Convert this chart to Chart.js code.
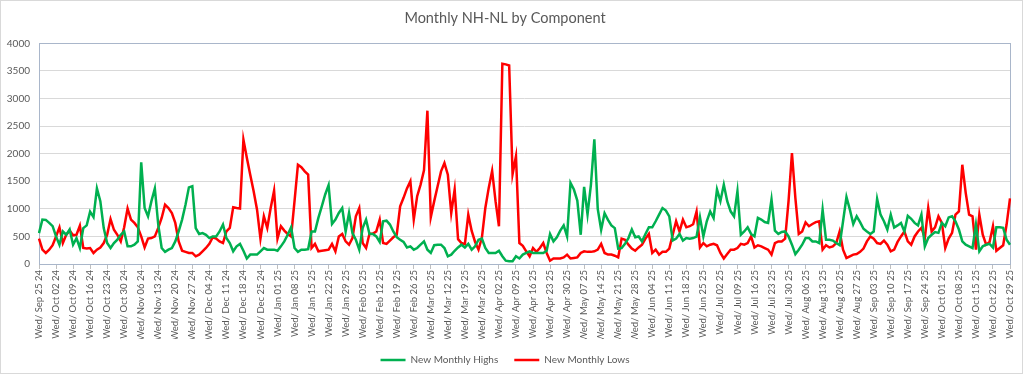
<!DOCTYPE html>
<html>
<head>
<meta charset="utf-8">
<script src="https://cdn.jsdelivr.net/npm/chart.js@4/dist/chart.umd.min.js"></script>
<style>
  html, body { margin: 0; padding: 0; background: #fff; }
  #wrap { width: 1024px; height: 376px; }
</style>
</head>
<body>
<div id="wrap"><canvas id="nhnl" width="1024" height="376"></canvas></div>
<script>
// first and last weekday shown on the axis (one category per weekday)
const startDate = '2024-09-25';
const endDate = '2025-10-29';

const yTicks = [0, 500, 1000, 1500, 2000, 2500, 3000, 3500, 4000];

const newHighs = [
  560, 805, 800, 745, 685, 500, 350, 590, 530, 625,
  350, 470, 290, 650, 700, 950, 850, 1370, 1140, 650,
  380, 290, 380, 440, 530, 590, 320, 320, 350, 410,
  1845, 1015, 865, 1140, 1370, 715, 290, 220, 260, 290,
  410, 590, 805, 1075, 1390, 1410, 650, 545, 560, 530,
  470, 500, 500, 590, 715, 470, 380, 230, 320, 365,
  240, 100, 170, 170, 170, 230, 290, 260, 260, 260,
  240, 320, 410, 530, 665, 290, 220, 260, 260, 270,
  590, 590, 835, 1045, 1260, 1430, 725, 805, 925, 1015,
  590, 925, 560, 440, 260, 650, 805, 545, 545, 500,
  400, 775, 785, 715, 590, 485, 440, 400, 300, 320,
  260, 290, 350, 410, 260, 200, 340, 350, 350, 290,
  140, 170, 240, 300, 350, 300, 365, 260, 320, 440,
  460, 290, 200, 200, 200, 240, 140, 60, 50, 50,
  140, 100, 170, 200, 230, 200, 200, 200, 200, 240,
  545, 410, 485, 605, 700, 500, 1470, 1350, 1150, 530,
  1400, 900, 1440, 2260, 1000, 620, 920, 800, 700, 650,
  280, 290, 365, 470, 625, 485, 500, 410, 545, 665,
  665, 775, 895, 1015, 970, 865, 425, 460, 545, 425,
  470, 460, 470, 495, 850, 500, 775, 955, 835, 1350,
  1140, 1440, 1140, 955, 865, 1320, 530, 590, 665, 545,
  500, 835, 805, 760, 745, 1170, 605, 545, 580, 590,
  500, 350, 180, 260, 350, 470, 470, 410, 410, 380,
  985, 440, 440, 425, 380, 340, 775, 1215, 985, 725,
  865, 760, 640, 590, 545, 590, 1180, 895, 775, 625,
  895, 660, 700, 745, 590, 875, 820, 745, 700, 895,
  320, 470, 530, 580, 565, 745, 685, 845, 865, 775,
  625, 410, 350, 320, 290, 715, 230, 320, 350, 365,
  300, 665, 665, 655, 440, 350
];

const newLows = [
  460, 260, 200, 260, 340, 500, 665, 380, 530, 605,
  520, 530, 695, 290, 280, 290, 200, 260, 300, 380,
  530, 815, 620, 530, 410, 665, 1005, 805, 745, 665,
  500, 300, 460, 470, 500, 655, 835, 1075, 1015, 925,
  745, 410, 240, 220, 200, 200, 140, 170, 230, 290,
  365, 485, 460, 410, 380, 590, 655, 1030, 1015, 1005,
  2255, 1925, 1620, 1320, 985, 460, 865, 655, 1015, 1330,
  460, 685, 605, 545, 500, 1140, 1800, 1755, 1680, 1620,
  290, 365, 230, 240, 250, 260, 365, 230, 500, 545,
  410, 350, 470, 865, 1015, 380, 290, 550, 550, 590,
  805, 380, 365, 425, 485, 530, 1045, 1200, 1370, 1500,
  805, 1230, 1440, 1700, 2780, 850, 1140, 1410, 1680, 1830,
  1620, 925, 1350, 450, 380, 360, 895, 600, 400, 260,
  480, 1015, 1380, 1690, 1140, 685, 3630, 3620, 3600, 1630,
  1955, 380, 330, 230, 140, 290, 220, 290, 380, 200,
  60, 100, 100, 100, 120, 170, 100, 110, 120, 200,
  230, 220, 220, 230, 260, 365, 200, 170, 170, 150,
  120, 460, 440, 350, 280, 240, 300, 350, 460, 545,
  200, 260, 170, 220, 220, 280, 530, 775, 590, 805,
  665, 685, 720, 950, 300, 380, 320, 350, 365, 340,
  200, 100, 180, 260, 260, 290, 365, 350, 380, 500,
  300, 340, 320, 290, 260, 170, 380, 410, 410, 460,
  1140, 2010, 1200, 545, 590, 755, 685, 725, 760, 775,
  260, 340, 300, 320, 380, 590, 260, 110, 140, 170,
  180, 220, 280, 410, 500, 460, 380, 365, 425, 350,
  230, 260, 400, 500, 590, 410, 350, 500, 590, 655,
  470, 1015, 590, 665, 865, 745, 290, 460, 565, 895,
  955, 1800, 1290, 895, 865, 260, 895, 530, 350, 400,
  685, 240, 290, 340, 715, 1190
];

const DAYS = ['Sun', 'Mon', 'Tue', 'Wed', 'Thu', 'Fri', 'Sat'];
const MONTHS = ['Jan', 'Feb', 'Mar', 'Apr', 'May', 'Jun', 'Jul', 'Aug', 'Sep', 'Oct', 'Nov', 'Dec'];

// weekday categories, formatted like the sheet: "Wed/ Sep 25 24"
function weekdayLabels(from, to) {
  const out = [];
  const d = new Date(from + 'T00:00:00Z');
  const end = new Date(to + 'T00:00:00Z');
  while (d <= end) {
    const dow = d.getUTCDay();
    if (dow !== 0 && dow !== 6) {
      const dd = String(d.getUTCDate()).padStart(2, '0');
      const yy = String(d.getUTCFullYear()).slice(2);
      out.push(`${DAYS[dow]}/ ${MONTHS[d.getUTCMonth()]} ${dd} ${yy}`);
    }
    d.setUTCDate(d.getUTCDate() + 1);
  }
  return out;
}
const categories = weekdayLabels(startDate, endDate);

const FONT = "Lato, 'Open Sans', 'Liberation Sans', sans-serif";
const TEXT = '#595959';

// white page, thin outer frame and the plot-area box
const frame = {
  id: 'frame',
  beforeDraw(chart) {
    const { ctx, width, height } = chart;
    ctx.save();
    ctx.fillStyle = '#fff';
    ctx.fillRect(0, 0, width, height);
    ctx.strokeStyle = '#d9d9d9';
    ctx.lineWidth = 1;
    ctx.strokeRect(0.5, 0.5, width - 2, height - 3);
    ctx.restore();
  },
  beforeDatasetsDraw(chart) {
    const { ctx, chartArea: a } = chart;
    ctx.save();
    ctx.strokeStyle = '#a9b6ca';
    ctx.lineWidth = 1;
    ctx.strokeRect(Math.round(a.left) + 0.5, Math.round(a.top) + 0.5,
      Math.round(a.right - a.left), Math.round(a.bottom - a.top));
    ctx.restore();
  }
};

new Chart(document.getElementById('nhnl'), {
  type: 'line',
  data: {
    labels: categories,
    datasets: [
      {
        label: 'New Monthly Highs',
        data: newHighs,
        borderColor: '#00b050',
        backgroundColor: '#00b050',
        borderWidth: 2.5,
        pointRadius: 0,
        tension: 0
      },
      {
        label: 'New Monthly Lows',
        data: newLows,
        borderColor: '#ff0000',
        backgroundColor: '#ff0000',
        borderWidth: 2.5,
        pointRadius: 0,
        tension: 0
      }
    ]
  },
  options: {
    responsive: false,
    animation: false,
    layout: { padding: { left: 0, right: 14, top: 2, bottom: 1 } },
    scales: {
      x: {
        offset: false,
        border: { display: false },
        grid: {
          drawOnChartArea: false,
          tickLength: 5,
          color: (c) => (c.index % 5 === 0 ? '#bfbfbf' : 'rgba(0,0,0,0)')
        },
        ticks: {
          autoSkip: false,
          maxRotation: 90,
          minRotation: 90,
          padding: 1,
          color: TEXT,
          font: { family: FONT, size: 9.5 },
          callback: (v, i) => (i % 5 === 0 ? categories[i] : '')
        },
        afterFit: (s) => { s.height = 75; }
      },
      y: {
        min: yTicks[0],
        max: yTicks[yTicks.length - 1],
        border: { display: false },
        grid: { color: '#d9d9d9', drawTicks: false },
        ticks: {
          stepSize: yTicks[1] - yTicks[0],
          padding: 9,
          color: TEXT,
          font: { family: FONT, size: 10 },
          callback: (v) => String(v)
        },
        afterFit: (s) => { s.width = 39; }
      }
    },
    plugins: {
      title: {
        display: true,
        text: 'Monthly NH-NL by Component',
        color: TEXT,
        font: { family: FONT, size: 14.5, weight: 'normal' },
        padding: { top: 8, bottom: 16 }
      },
      legend: {
        position: 'bottom',
        labels: {
          usePointStyle: true,
          pointStyle: 'line',
          pointStyleWidth: 25,
          boxHeight: 10,
          padding: 16,
          color: TEXT,
          font: { family: FONT, size: 10 }
        }
      },
      tooltip: { enabled: false }
    }
  },
  plugins: [frame]
});
</script>
</body>
</html>
